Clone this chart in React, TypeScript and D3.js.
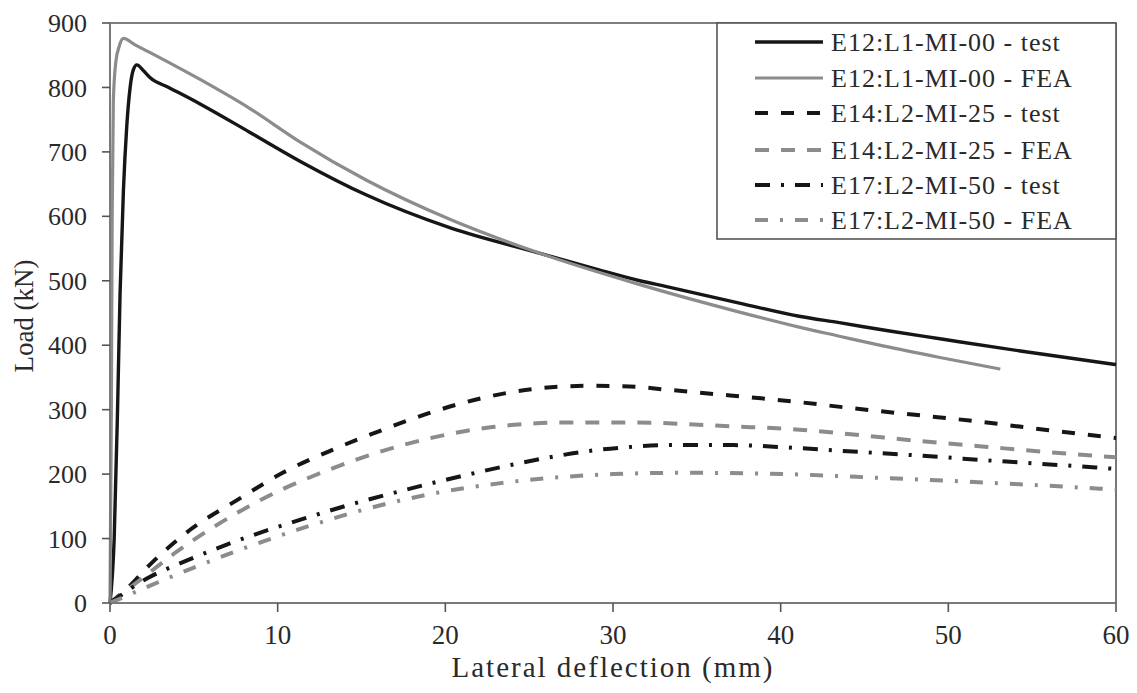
import React from "react";
import * as d3 from "d3";

const xTicks = [0, 10, 20, 30, 40, 50, 60];
const yTicks = [0, 100, 200, 300, 400, 500, 600, 700, 800, 900];

const e12TestX = [0, 0.25, 0.45, 0.6, 0.8, 1.0, 1.2, 1.4, 1.6, 2.0, 2.4, 3.5, 5.4, 8.3, 11.3, 15.3, 20.3, 25.6, 29, 31.6, 33.2, 37.6, 41.1, 43.5, 46.5, 49.5, 54.3, 60];
const e12TestY = [0, 100, 300, 480, 640, 740, 800, 828, 835, 826, 815, 800, 774, 731, 686, 633, 582, 543, 518, 500, 491, 465, 445, 435, 422, 410, 391, 370];

const e12FeaX = [0, 0.08, 0.13, 0.2, 0.35, 0.55, 0.8, 1.5, 2.4, 3.5, 5.4, 8.3, 11.3, 15.3, 20.3, 25.6, 31.6, 37.6, 41.1, 43.5, 46.1, 49.5, 53.1];
const e12FeaY = [0, 300, 600, 780, 840, 864, 876, 866, 854, 839, 812, 768, 716, 656, 595, 543, 494, 451, 428, 414, 399, 381, 363];

const e14TestX = [0, 1, 2.4, 4.8, 7.6, 10.3, 13.3, 16.3, 19.3, 22.2, 25.2, 28.5, 31, 33.2, 37, 41, 44, 48, 52, 56, 60];
const e14TestY = [0, 22, 60, 114, 160, 202, 238, 269, 297, 318, 332, 337, 336, 331, 322, 312, 303, 292, 281, 268, 256];

const e14FeaX = [0, 2, 4, 6, 8, 10, 12.3, 15.3, 19.3, 22.8, 27.2, 31.2, 37.2, 41.1, 44.5, 48, 52, 56, 60];
const e14FeaY = [0, 40, 80, 115, 146, 173, 199, 228, 257, 273, 280, 280, 274, 269, 261, 252, 243, 234, 226];

const e17TestX = [0, 2.2, 4.6, 7, 9.4, 11.7, 14.1, 16.5, 18.9, 21.3, 23.7, 26.2, 28.6, 31, 33.2, 37.2, 40, 43.1, 48.1, 53.1, 58.4, 60];
const e17TestY = [0, 38, 66, 91, 113, 132, 151, 168, 184, 199, 213, 226, 236, 242, 245, 245, 242, 237, 229, 220, 211, 208];

const e17FeaX = [0, 2.4, 5, 7.9, 11.7, 15.3, 19.3, 23.3, 27.2, 30, 34, 38.8, 46.1, 53.7, 60];
const e17FeaY = [0, 27, 55, 84, 118, 146, 170, 186, 196, 200, 202, 201, 194, 185, 176];

const seriesNames = [
  "E12:L1-MI-00 - test",
  "E12:L1-MI-00 - FEA",
  "E14:L2-MI-25 - test",
  "E14:L2-MI-25 - FEA",
  "E17:L2-MI-50 - test",
  "E17:L2-MI-50 - FEA",
];

const BLACK = "#161616";
const GRAY = "#8c8c8c";
const FONT = "'Liberation Serif', 'Times New Roman', serif";

const styles = [
  { color: BLACK, width: 3.4, dash: "" },
  { color: GRAY, width: 3.2, dash: "" },
  { color: BLACK, width: 4, dash: "13,13" },
  { color: GRAY, width: 4, dash: "14,12" },
  { color: BLACK, width: 4, dash: "15,11,3,11" },
  { color: GRAY, width: 4, dash: "13,12,3,12" },
];

export default function App() {
  const x = d3.scaleLinear().domain([0, 60]).range([110, 1116]);
  const y = d3.scaleLinear().domain([0, 900]).range([603, 23]);
  const line = d3
    .line<[number, number]>()
    .x((d) => x(d[0]))
    .y((d) => y(d[1]))
    .curve(d3.curveMonotoneX);

  const series = [
    [e12TestX, e12TestY],
    [e12FeaX, e12FeaY],
    [e14TestX, e14TestY],
    [e14FeaX, e14FeaY],
    [e17TestX, e17TestY],
    [e17FeaX, e17FeaY],
  ].map(([xs, ys]) => xs.map((v, i) => [v, ys[i]] as [number, number]));

  const legendRows = [42, 78, 113, 150, 185, 220];

  return (
    <svg
      width={1137}
      height={693}
      style={{ position: "absolute", left: 0, top: 0, background: "#fff" }}
      fontFamily={FONT}
    >
      <rect x={0} y={0} width={1137} height={693} fill="#fff" />
      <line x1={x(0)} y1={y(900)} x2={x(60)} y2={y(900)} stroke="#555" strokeWidth={1.6} />
      <line x1={x(60)} y1={y(900)} x2={x(60)} y2={y(0)} stroke="#555" strokeWidth={1.6} />
      {series.map((pts, i) => (
        <path
          key={i}
          d={line(pts) || ""}
          fill="none"
          stroke={styles[i].color}
          strokeWidth={styles[i].width}
          strokeDasharray={styles[i].dash || undefined}
          strokeLinejoin="round"
        />
      ))}
      <line x1={x(0)} y1={y(0)} x2={x(0)} y2={y(900)} stroke="#7a7a7a" strokeWidth={2} />
      <line x1={x(0)} y1={y(0)} x2={x(60)} y2={y(0)} stroke="#7a7a7a" strokeWidth={2} />
      {yTicks.map((t) => (
        <g key={"y" + t}>
          <line x1={x(0) - 8} x2={x(0)} y1={y(t)} y2={y(t)} stroke="#555" strokeWidth={1.6} />
          <text x={87} y={y(t)} dy="0.35em" textAnchor="end" fontSize={26} fill="#2a2a2a">
            {t}
          </text>
        </g>
      ))}
      {xTicks.map((t) => (
        <g key={"x" + t}>
          <line x1={x(t)} x2={x(t)} y1={y(0)} y2={y(0) + 9} stroke="#555" strokeWidth={1.6} />
          <text x={x(t)} y={644} textAnchor="middle" fontSize={27} fill="#2a2a2a">
            {t}
          </text>
        </g>
      ))}
      <text x={613} y={677} textAnchor="middle" fontSize={29} letterSpacing={2} fill="#2a2a2a">
        Lateral deflection (mm)
      </text>
      <text
        transform={`translate(33,316) rotate(-90)`}
        textAnchor="middle"
        fontSize={27}
        fill="#2a2a2a"
      >
        Load (kN)
      </text>
      <rect x={717} y={23} width={399} height={216} fill="#fff" stroke="#555" strokeWidth={1.6} />
      {seriesNames.map((name, i) => (
        <g key={name}>
          <line
            x1={755}
            x2={823}
            y1={legendRows[i]}
            y2={legendRows[i]}
            stroke={styles[i].color}
            strokeWidth={styles[i].width}
            strokeDasharray={styles[i].dash || undefined}
          />
          <text
            x={831}
            y={legendRows[i]}
            dy="0.35em"
            fontSize={26}
            letterSpacing={1}
            fill="#2a2a2a"
          >
            {name}
          </text>
        </g>
      ))}
    </svg>
  );
}
